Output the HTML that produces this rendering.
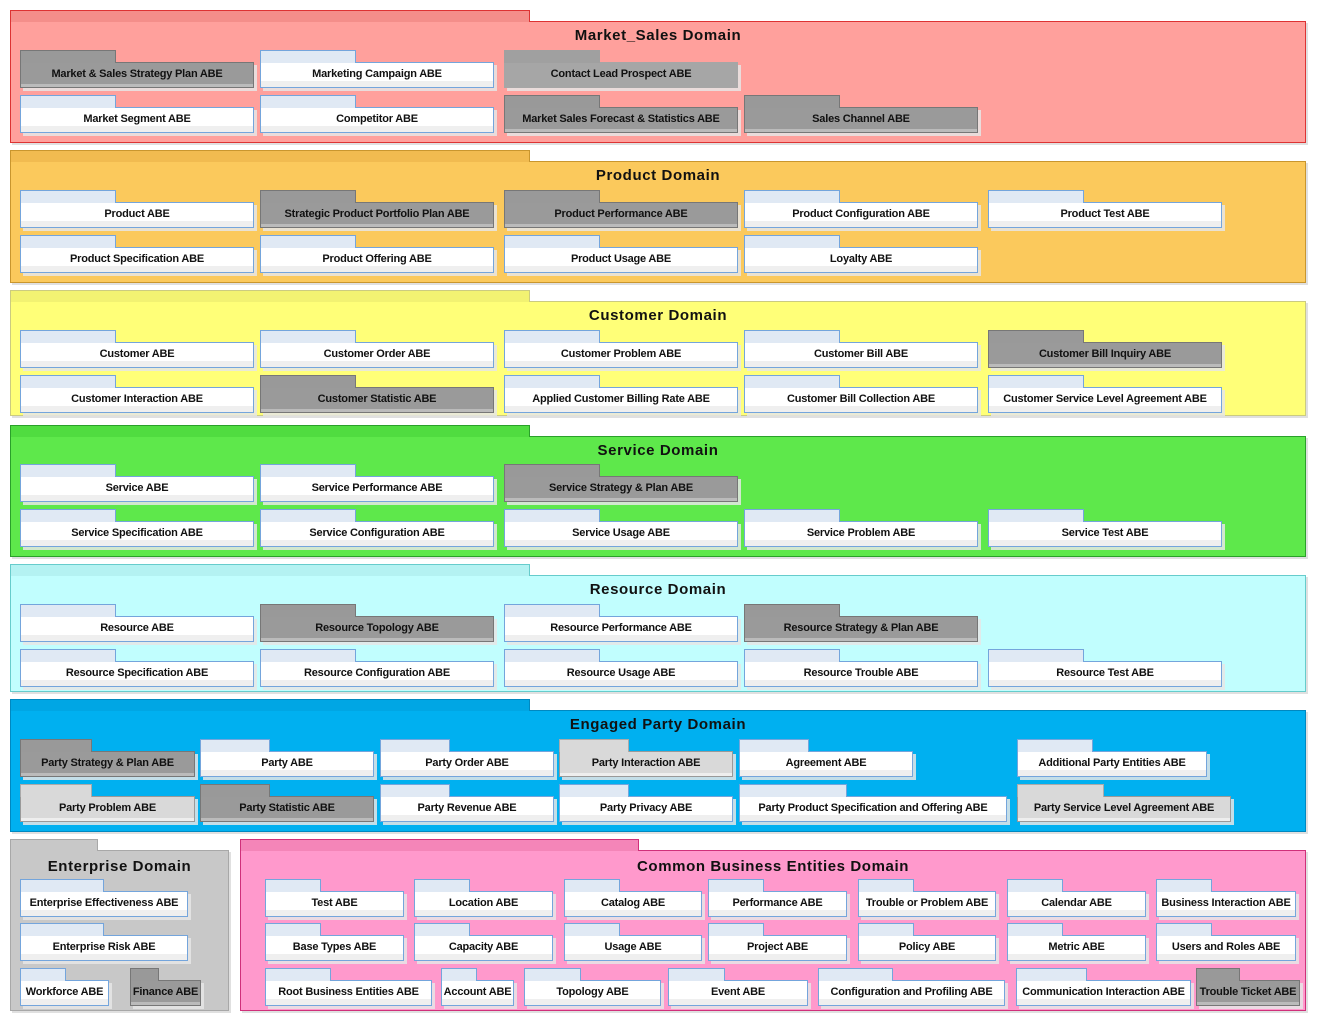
<!DOCTYPE html>
<html><head><meta charset="utf-8"><style>
body{margin:0;width:1319px;height:1026px;background:#fff;position:relative;overflow:hidden;font-family:"Liberation Sans",sans-serif}
.dm{position:absolute;box-sizing:border-box;border:1px solid;box-shadow:2px 2px 0 rgba(0,0,0,.12)}
.dm::before{content:"";position:absolute;left:-1px;top:-12px;width:var(--t);height:12px;box-sizing:border-box;border:1px solid;border-color:inherit;border-bottom:none;background:var(--tb)}
.tt{position:absolute;left:0;right:0;top:5px;text-align:center;font-weight:bold;font-size:15px;letter-spacing:.6px;color:#111}
.i{position:absolute;height:26px;box-sizing:border-box;border:1px solid #74a5dc;background:linear-gradient(#fff 0 76%,#efefef 76%);box-shadow:3px 3px 0 rgba(230,230,230,.85);font-weight:bold;font-size:11px;letter-spacing:-0.2px;text-align:center;line-height:22px;color:#111;white-space:nowrap}
.i::before{content:"";position:absolute;left:-1px;top:-13px;width:var(--t,96px);height:13px;box-sizing:border-box;border:1px solid #74a5dc;border-bottom:none;background:#e0e9f4}
.d{background:linear-gradient(#9a9a9a 0 88%,#bbb 88%);border-color:#777}
.d::before{background:#999;border-color:#777}
.c{background:#a6a6a6;border-color:#a6a6a6}
.c::before{background:#a0a0a0;border-color:#a0a0a0}
.g{background:linear-gradient(#d9d9d9 0 88%,#eee 88%);border-color:#999}
.g::before{background:#d9d9d9;border-color:#aaa}
</style></head><body>

<div class="dm" style="left:10px;top:21px;width:1296px;height:122px;background:#ffa09c;border-color:#d33;--t:520px;--tb:#f48e8a"><div class="tt">Market_Sales Domain</div></div>
<div class="i d" style="left:20px;top:62px;width:234px">Market &amp; Sales Strategy Plan ABE</div>
<div class="i" style="left:260px;top:62px;width:234px">Marketing Campaign ABE</div>
<div class="i c" style="left:504px;top:62px;width:234px">Contact Lead Prospect ABE</div>
<div class="i" style="left:20px;top:107px;width:234px">Market Segment ABE</div>
<div class="i" style="left:260px;top:107px;width:234px">Competitor ABE</div>
<div class="i d" style="left:504px;top:107px;width:234px">Market Sales Forecast &amp; Statistics ABE</div>
<div class="i d" style="left:744px;top:107px;width:234px">Sales Channel ABE</div>

<div class="dm" style="left:10px;top:161px;width:1296px;height:122px;background:#fbc95c;border-color:#c9962e;--t:520px;--tb:#f1bb50"><div class="tt">Product Domain</div></div>
<div class="i" style="left:20px;top:202px;width:234px">Product ABE</div>
<div class="i d" style="left:260px;top:202px;width:234px">Strategic Product Portfolio Plan ABE</div>
<div class="i d" style="left:504px;top:202px;width:234px">Product Performance ABE</div>
<div class="i" style="left:744px;top:202px;width:234px">Product Configuration ABE</div>
<div class="i" style="left:988px;top:202px;width:234px">Product Test ABE</div>
<div class="i" style="left:20px;top:247px;width:234px">Product Specification ABE</div>
<div class="i" style="left:260px;top:247px;width:234px">Product Offering ABE</div>
<div class="i" style="left:504px;top:247px;width:234px">Product Usage ABE</div>
<div class="i" style="left:744px;top:247px;width:234px">Loyalty ABE</div>

<div class="dm" style="left:10px;top:301px;width:1296px;height:115px;background:#ffff78;border-color:#cbcb80;--t:520px;--tb:#f2f272"><div class="tt">Customer Domain</div></div>
<div class="i" style="left:20px;top:342px;width:234px">Customer ABE</div>
<div class="i" style="left:260px;top:342px;width:234px">Customer Order ABE</div>
<div class="i" style="left:504px;top:342px;width:234px">Customer Problem ABE</div>
<div class="i" style="left:744px;top:342px;width:234px">Customer Bill ABE</div>
<div class="i d" style="left:988px;top:342px;width:234px">Customer Bill Inquiry ABE</div>
<div class="i" style="left:20px;top:387px;width:234px">Customer Interaction ABE</div>
<div class="i d" style="left:260px;top:387px;width:234px">Customer Statistic ABE</div>
<div class="i" style="left:504px;top:387px;width:234px">Applied Customer Billing Rate ABE</div>
<div class="i" style="left:744px;top:387px;width:234px">Customer Bill Collection ABE</div>
<div class="i" style="left:988px;top:387px;width:234px">Customer Service Level Agreement ABE</div>

<div class="dm" style="left:10px;top:436px;width:1296px;height:121px;background:#5ee84b;border-color:#2aa02a;--t:520px;--tb:#50dc40"><div class="tt">Service Domain</div></div>
<div class="i" style="left:20px;top:476px;width:234px">Service ABE</div>
<div class="i" style="left:260px;top:476px;width:234px">Service Performance ABE</div>
<div class="i d" style="left:504px;top:476px;width:234px">Service Strategy &amp; Plan ABE</div>
<div class="i" style="left:20px;top:521px;width:234px">Service Specification ABE</div>
<div class="i" style="left:260px;top:521px;width:234px">Service Configuration ABE</div>
<div class="i" style="left:504px;top:521px;width:234px">Service Usage ABE</div>
<div class="i" style="left:744px;top:521px;width:234px">Service Problem ABE</div>
<div class="i" style="left:988px;top:521px;width:234px">Service Test ABE</div>

<div class="dm" style="left:10px;top:575px;width:1296px;height:117px;background:#c1fefe;border-color:#6cc;--t:520px;--tb:#b4f2f2"><div class="tt">Resource Domain</div></div>
<div class="i" style="left:20px;top:616px;width:234px">Resource ABE</div>
<div class="i d" style="left:260px;top:616px;width:234px">Resource Topology ABE</div>
<div class="i" style="left:504px;top:616px;width:234px">Resource Performance ABE</div>
<div class="i d" style="left:744px;top:616px;width:234px">Resource Strategy &amp; Plan ABE</div>
<div class="i" style="left:20px;top:661px;width:234px">Resource Specification ABE</div>
<div class="i" style="left:260px;top:661px;width:234px">Resource Configuration ABE</div>
<div class="i" style="left:504px;top:661px;width:234px">Resource Usage ABE</div>
<div class="i" style="left:744px;top:661px;width:234px">Resource Trouble ABE</div>
<div class="i" style="left:988px;top:661px;width:234px">Resource Test ABE</div>

<div class="dm" style="left:10px;top:710px;width:1296px;height:122px;background:#00b0f0;border-color:#0088c0;--t:520px;--tb:#00a6e4"><div class="tt">Engaged Party Domain</div></div>
<div class="i d" style="left:20px;top:751px;width:175px;--t:72px">Party Strategy &amp; Plan ABE</div>
<div class="i" style="left:200px;top:751px;width:174px;--t:70px">Party ABE</div>
<div class="i" style="left:380px;top:751px;width:174px;--t:70px">Party Order ABE</div>
<div class="i g" style="left:559px;top:751px;width:174px;--t:70px">Party Interaction ABE</div>
<div class="i" style="left:739px;top:751px;width:174px;--t:70px">Agreement ABE</div>
<div class="i" style="left:1017px;top:751px;width:190px;--t:76px">Additional Party Entities ABE</div>
<div class="i g" style="left:20px;top:796px;width:175px;--t:72px">Party Problem ABE</div>
<div class="i d" style="left:200px;top:796px;width:174px;--t:70px">Party Statistic ABE</div>
<div class="i" style="left:380px;top:796px;width:174px;--t:70px">Party Revenue ABE</div>
<div class="i" style="left:559px;top:796px;width:174px;--t:70px">Party Privacy ABE</div>
<div class="i" style="left:739px;top:796px;width:268px;--t:108px">Party Product Specification and Offering ABE</div>
<div class="i g" style="left:1017px;top:796px;width:214px;--t:87px">Party Service Level Agreement ABE</div>

<div class="dm" style="left:10px;top:850px;width:219px;height:161px;background:#c8c8c8;border-color:#a8a8a8;--t:88px;--tb:#c8c8c8"><div class="tt" style="top:7px">Enterprise Domain</div></div>
<div class="i" style="left:20px;top:891px;width:168px;--t:84px">Enterprise Effectiveness ABE</div>
<div class="i" style="left:20px;top:935px;width:168px;--t:84px">Enterprise Risk ABE</div>
<div class="i" style="left:20px;top:980px;width:89px;--t:46px">Workforce ABE</div>
<div class="i d" style="left:130px;top:980px;width:71px;--t:29px">Finance ABE</div>

<div class="dm" style="left:240px;top:850px;width:1066px;height:161px;background:#ff99cc;border-color:#d0307a;--t:399px;--tb:#f485b8"><div class="tt" style="top:7px">Common Business Entities Domain</div></div>
<div class="i" style="left:265px;top:891px;width:139px;--t:56px">Test ABE</div>
<div class="i" style="left:414px;top:891px;width:139px;--t:56px">Location ABE</div>
<div class="i" style="left:564px;top:891px;width:138px;--t:56px">Catalog ABE</div>
<div class="i" style="left:708px;top:891px;width:139px;--t:56px">Performance ABE</div>
<div class="i" style="left:858px;top:891px;width:138px;--t:56px">Trouble or Problem ABE</div>
<div class="i" style="left:1007px;top:891px;width:139px;--t:56px">Calendar ABE</div>
<div class="i" style="left:1156px;top:891px;width:140px;--t:56px">Business Interaction ABE</div>
<div class="i" style="left:265px;top:935px;width:139px;--t:56px">Base Types ABE</div>
<div class="i" style="left:414px;top:935px;width:139px;--t:56px">Capacity ABE</div>
<div class="i" style="left:564px;top:935px;width:138px;--t:56px">Usage ABE</div>
<div class="i" style="left:708px;top:935px;width:139px;--t:56px">Project ABE</div>
<div class="i" style="left:858px;top:935px;width:138px;--t:56px">Policy ABE</div>
<div class="i" style="left:1007px;top:935px;width:139px;--t:56px">Metric ABE</div>
<div class="i" style="left:1156px;top:935px;width:140px;--t:56px">Users and Roles ABE</div>
<div class="i" style="left:265px;top:980px;width:167px;--t:66px">Root Business Entities ABE</div>
<div class="i" style="left:441px;top:980px;width:73px;--t:36px">Account ABE</div>
<div class="i" style="left:524px;top:980px;width:137px;--t:57px">Topology ABE</div>
<div class="i" style="left:668px;top:980px;width:140px;--t:57px">Event ABE</div>
<div class="i" style="left:818px;top:980px;width:187px;--t:75px">Configuration and Profiling ABE</div>
<div class="i" style="left:1016px;top:980px;width:175px;--t:71px">Communication Interaction ABE</div>
<div class="i d" style="left:1196px;top:980px;width:104px;--t:44px">Trouble Ticket ABE</div>

</body></html>
